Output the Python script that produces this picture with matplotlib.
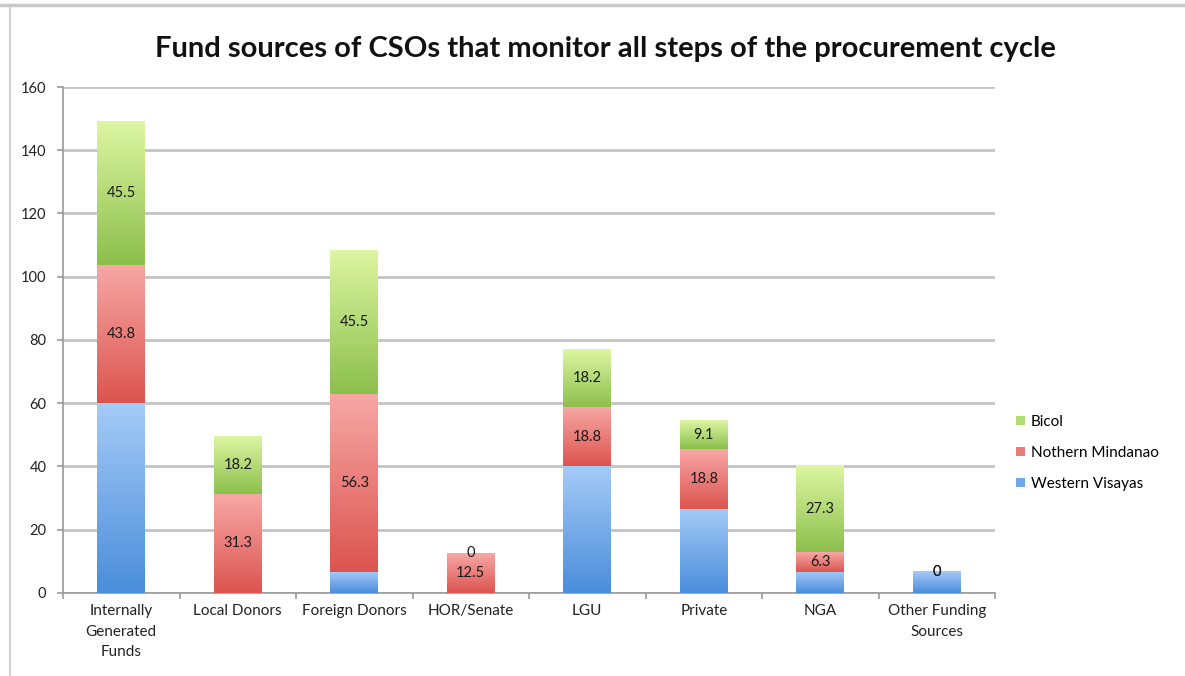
import numpy as np
import matplotlib
matplotlib.use("Agg")
import matplotlib.pyplot as plt
from matplotlib.colors import LinearSegmentedColormap
from matplotlib.patches import Patch
from matplotlib.lines import Line2D

plt.rcParams['font.family'] = ['Lato', 'DejaVu Sans']

categories = ["Internally\nGenerated\nFunds", "Local Donors", "Foreign Donors", "HOR/Senate",
              "LGU", "Private", "NGA", "Other Funding\nSources"]
western_visayas = [60, 0, 6.7, 0, 40, 26.7, 6.7, 6.7]
northern_mindanao = [43.8, 31.3, 56.3, 12.5, 18.8, 18.8, 6.3, 0]
bicol = [45.5, 18.2, 45.5, 0, 18.2, 9.1, 27.3, 0]
series_names = ["Western Visayas", "Nothern Mindanao", "Bicol"]

# (bottom colour, top colour) for the gradient fill of each series
grads = [("#4a8ddb", "#a5cbf7"), ("#dc544f", "#f7a8a6"), ("#8cbf4c", "#ddf6a2")]
mids = ["#6fa6e8", "#e97c78", "#b3db76"]

fig = plt.figure(figsize=(11.85, 6.76), dpi=100)
ax = fig.add_axes([0.0532, 0.1228, 0.7865, 0.7485])

x = np.arange(len(categories))
width = 0.41
bottom = np.zeros(len(categories))
series = [western_visayas, northern_mindanao, bicol]
grad_img = np.linspace(0, 1, 256).reshape(-1, 1)
bar_sets = []
for vals, (c0, c1) in zip(series, grads):
	vals = np.array(vals, dtype=float)
	bars = ax.bar(x, vals, width, bottom=bottom, color="none", edgecolor="none", zorder=3)
	cmap = LinearSegmentedColormap.from_list("g", [c0, c1])
	for b in bars:
		if b.get_height() <= 0:
			continue
		bx, by = b.get_x(), b.get_y()
		ax.imshow(grad_img, extent=[bx, bx + b.get_width(), by, by + b.get_height()],
			origin="lower", aspect="auto", cmap=cmap, zorder=3)
	bar_sets.append((bars, vals, bottom.copy()))
	bottom = bottom + vals

# data labels for Nothern Mindanao and Bicol
for bars, vals, base in bar_sets[1:]:
	for xi, v, b0 in zip(x, vals, base):
		ax.text(xi, b0 + v / 2, "%g" % v, ha="center", va="center", fontsize=10.5,
			color="#1a1a1a", zorder=5)

ax.set_xlim(-0.5, len(categories) - 0.5)
ax.set_ylim(0, 160)
ax.set_yticks(np.arange(0, 161, 20))
ax.set_xticks(x)
ax.set_xticklabels(categories, fontsize=11, color="#222222", linespacing=1.6)
ax.set_xticks(np.arange(-0.5, len(categories), 1), minor=True)
ax.tick_params(axis="x", which="major", length=0, pad=8)
ax.tick_params(axis="x", which="minor", length=4, color="#999999", width=1.2)
ax.tick_params(axis="y", length=4, color="#999999", width=1.2, labelsize=10.5, labelcolor="#222222", pad=8)
ax.grid(axis="y", color="#c4c4c4", linewidth=2, zorder=0)
ax.set_axisbelow(True)
for s in ["top", "right"]:
	ax.spines[s].set_visible(False)
ax.spines["left"].set_color("#999999")
ax.spines["bottom"].set_color("#999999")
ax.spines["left"].set_linewidth(1.2)
ax.spines["bottom"].set_linewidth(1.2)

fig.text(0.511, 0.928, "Fund sources of CSOs that monitor all steps of the procurement cycle",
	ha="center", va="center", fontsize=21, fontweight="bold", color="#111111")

handles = [Patch(facecolor=mids[i], edgecolor="none") for i in range(3)][::-1]
fig.legend(handles, series_names[::-1], loc="center left", bbox_to_anchor=(0.846, 0.33),
	frameon=False, fontsize=11, handlelength=0.55, handleheight=0.55, handletextpad=0.4,
	labelspacing=1.1)

# thin frame lines seen at the top and left of the original image
fig.add_artist(Line2D([0, 1], [0.993, 0.993], color="#c8c8c8", linewidth=2.5, transform=fig.transFigure))
fig.add_artist(Line2D([0.0085, 0.0085], [0, 0.993], color="#c8c8c8", linewidth=1.2, transform=fig.transFigure))

fig.savefig("out.png", dpi=100, facecolor="white")
